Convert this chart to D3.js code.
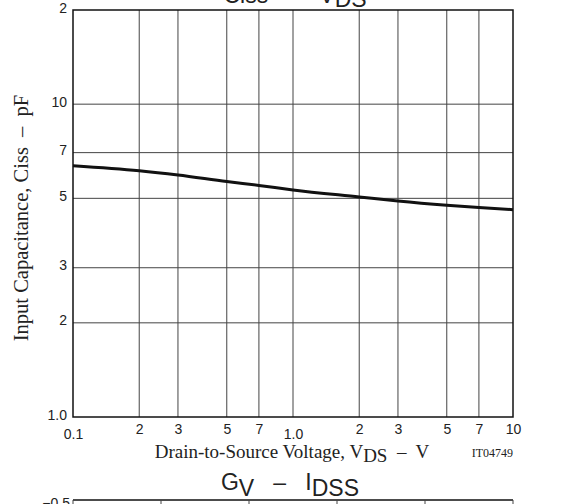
<!DOCTYPE html>
<html>
<head>
<meta charset="utf-8">
<script src="https://cdn.jsdelivr.net/npm/d3@7"></script>
<style>
body { margin: 0; background: #fff; }
svg { display: block; }
text { white-space: pre; }
.tick text { font-family: "Liberation Sans", Arial, sans-serif; font-size: 14px; fill: #222; }
</style>
</head>
<body>
<svg width="583" height="504"></svg>
<script>
// Ciss vs VDS
var vds = [0.1, 0.2, 0.3, 0.5, 0.7, 1, 2, 3, 5, 7, 10]
var ciss = [6.36, 6.13, 5.94, 5.66, 5.5, 5.32, 5.05, 4.9, 4.75, 4.67, 4.6]

var xTicks = [0.1, 0.2, 0.3, 0.5, 0.7, 1, 2, 3, 5, 7, 10]
var xTickLabels = ['0.1', '2', '3', '5', '7', '1.0', '2', '3', '5', '7', '10']
var yTicks = [1, 2, 3, 5, 7, 10, 20]
var yTickLabels = ['1.0', '2', '3', '5', '7', '10', '2']

// second chart (only its top edge shows)
var gvTicks = [0, 1, 2, 3, 4, 5]

var svg = d3.select("svg")
var mLeft = 73, mRight = 513, mTop = 10, mBottom = 417

var x = d3.scaleLog().domain([0.1, 10]).range([mLeft, mRight])
var y = d3.scaleLog().domain([1, 20]).range([mBottom, mTop])

var serif = '"Liberation Serif", "Times New Roman", serif'
var sans = '"Liberation Sans", Arial, sans-serif'

// grid
svg.append("g")
	.selectAll("line")
	.data(xTicks.slice(1, -1))
	.enter().append("line")
		.attr("x1", function(d) { return x(d) })
		.attr("x2", function(d) { return x(d) })
		.attr("y1", mTop).attr("y2", mBottom)
		.attr("stroke", "#444").attr("stroke-width", 1)

svg.append("g")
	.selectAll("line")
	.data(yTicks.slice(1, -1))
	.enter().append("line")
		.attr("y1", function(d) { return y(d) })
		.attr("y2", function(d) { return y(d) })
		.attr("x1", mLeft).attr("x2", mRight)
		.attr("stroke", "#444").attr("stroke-width", 1)

// frame
svg.append("rect")
	.attr("x", mLeft).attr("y", mTop)
	.attr("width", mRight - mLeft).attr("height", mBottom - mTop)
	.attr("fill", "none").attr("stroke", "#111").attr("stroke-width", 1.5)

// axes (labels only)
var xAxis = d3.axisBottom(x).tickValues(xTicks).tickSize(0).tickPadding(7)
	.tickFormat(function(d, i) { return xTickLabels[i] })
var gx = svg.append("g").attr("transform", "translate(0," + mBottom + ")").call(xAxis)
gx.select(".domain").remove()
gx.selectAll(".tick text")
	.attr("dy", function(d, i) { return (i == 0 || i == 5) ? "1.05em" : "0.71em" })

var yAxis = d3.axisLeft(y).tickValues(yTicks).tickSize(0).tickPadding(6)
	.tickFormat(function(d, i) { return yTickLabels[i] })
var gy = svg.append("g").attr("transform", "translate(" + mLeft + ",0)").call(yAxis)
gy.select(".domain").remove()
gy.selectAll(".tick text").attr("dy", "0.15em")

// curve
var line = d3.line()
	.x(function(d, i) { return x(vds[i]) })
	.y(function(d, i) { return y(ciss[i]) })
	.curve(d3.curveMonotoneX)

svg.append("path")
	.datum(ciss)
	.attr("d", line)
	.attr("fill", "none").attr("stroke", "#111").attr("stroke-width", 3)

// axis titles
var xt = svg.append("text")
	.attr("x", 292).attr("y", 458)
	.attr("text-anchor", "middle")
	.attr("font-family", serif).attr("font-size", 19).attr("fill", "#222")
xt.append("tspan").text("Drain-to-Source Voltage, V")
xt.append("tspan").attr("dy", 4).text("DS")
xt.append("tspan").attr("dy", -4).text("  \u2013  V")

svg.append("text")
	.attr("x", 513).attr("y", 457)
	.attr("text-anchor", "end")
	.attr("font-family", serif).attr("font-size", 12).attr("fill", "#222")
	.text("IT04749")

svg.append("text")
	.attr("transform", "translate(28," + 218 + ") rotate(-90)")
	.attr("text-anchor", "middle")
	.attr("font-family", serif).attr("font-size", 20.5).attr("fill", "#222")
	.text("Input Capacitance, Ciss  \u2013  pF")

// top title, mostly cut off
var tt = svg.append("text")
	.attr("x", 295).attr("y", 3)
	.attr("text-anchor", "middle")
	.attr("font-family", sans).attr("font-size", 23).attr("fill", "#222")
tt.append("tspan").text("Ciss   \u2013   V")
tt.append("tspan").attr("dy", 4).text("DS")

// next chart title
var bt = svg.append("text")
	.attr("x", 290).attr("y", 490)
	.attr("text-anchor", "middle")
	.attr("font-family", sans).attr("font-size", 23).attr("fill", "#222")
bt.append("tspan").text("G")
bt.append("tspan").attr("dy", 6).text("V")
bt.append("tspan").attr("dy", -6).text("   \u2013   I")
bt.append("tspan").attr("dy", 6).text("DSS")

// next chart top edge
var x2 = d3.scaleLinear().domain([0, 5]).range([mLeft, mRight])
svg.append("line")
	.attr("x1", mLeft).attr("x2", mRight).attr("y1", 500).attr("y2", 500)
	.attr("stroke", "#111").attr("stroke-width", 1.5)
svg.append("g")
	.selectAll("line")
	.data(gvTicks)
	.enter().append("line")
		.attr("x1", function(d) { return x2(d) })
		.attr("x2", function(d) { return x2(d) })
		.attr("y1", 500).attr("y2", 504)
		.attr("stroke", "#444").attr("stroke-width", 1)
svg.append("text")
	.attr("x", 70).attr("y", 508)
	.attr("text-anchor", "end")
	.attr("font-family", sans).attr("font-size", 14).attr("fill", "#222")
	.text("\u22120.5")
</script>
</body>
</html>
